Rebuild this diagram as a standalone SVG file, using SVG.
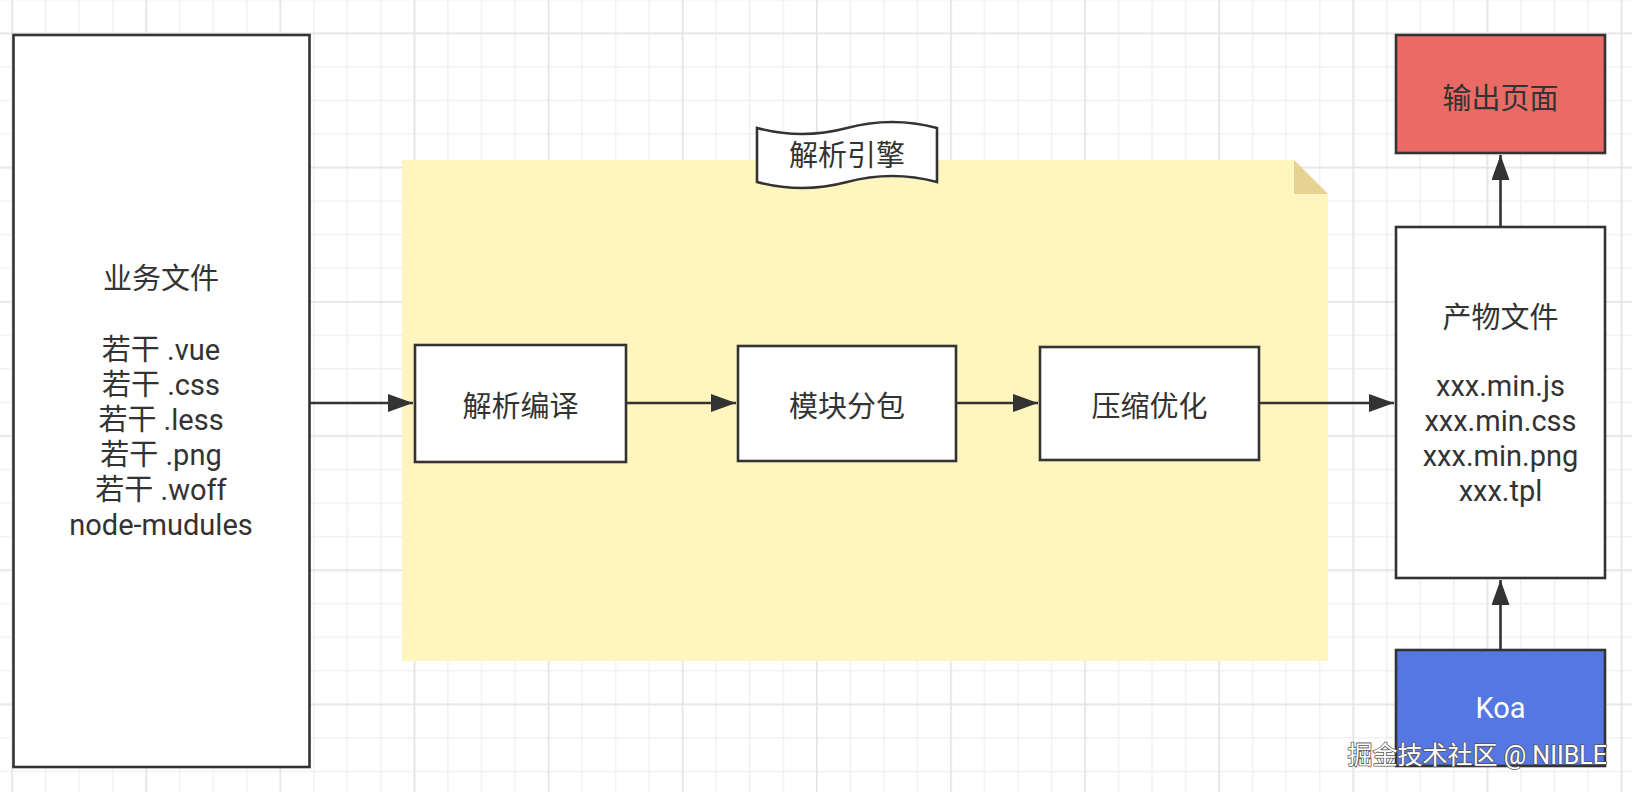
<svg xmlns="http://www.w3.org/2000/svg" width="1632" height="792" viewBox="0 0 1632 792">
<style>
.box{fill:#ffffff;stroke:#333333;stroke-width:2.6}
.lbl{font-family:Roboto,"Noto Sans CJK SC",sans-serif;font-size:29px;fill:#333333;text-anchor:middle}
.edge{fill:none;stroke:#333333;stroke-width:2.6}
</style>
<defs>
<pattern id="gMinor" patternUnits="userSpaceOnUse" x="11.3" y="32.6" width="33.53" height="33.55">
<rect x="0" y="0" width="1.4" height="33.55" fill="#f0f0f0"/>
<rect x="0" y="0" width="33.53" height="1.4" fill="#f0f0f0"/>
</pattern>
<pattern id="gMajor" patternUnits="userSpaceOnUse" x="11.3" y="32.6" width="134.12" height="134.2">
<rect x="0" y="0" width="1.5" height="134.2" fill="#e4e4e4"/>
<rect x="0" y="0" width="134.12" height="1.5" fill="#e4e4e4"/>
</pattern>
<marker id="arr" markerUnits="userSpaceOnUse" markerWidth="26" markerHeight="20" refX="25" refY="9" orient="auto">
<path d="M0,0 L25,9 L0,18 Z" fill="#333333"/>
</marker>
</defs>
<rect x="0" y="0" width="1632" height="792" fill="#ffffff"/>
<rect x="0" y="0" width="1632" height="792" fill="url(#gMinor)"/>
<rect x="0" y="0" width="1632" height="792" fill="url(#gMajor)"/>

<g id="note-engine">
<path d="M402,160 L1294,160 L1328,194 L1328,661 L402,661 Z" fill="#fff6bf"/>
<path d="M1294,160 L1294,194 L1328,194 Z" fill="#e6d394"/>
</g>

<g id="tape-engine">
<path d="M757,128 Q802,140 847,128 Q892,116 937,128 L937,182 Q892,170 847,182 Q802,194 757,182 Z" fill="#ffffff" stroke="#333333" stroke-width="2.6"/>
<text class="lbl" x="847" y="166">解析引擎</text>
</g>

<g id="source-files">
<rect class="box" x="13.5" y="35" width="296" height="732"/>
<text class="lbl" x="161" y="289">业务文件</text>
<text class="lbl" x="161" y="360">若干 .vue</text>
<text class="lbl" x="161" y="395">若干 .css</text>
<text class="lbl" x="161" y="430">若干 .less</text>
<text class="lbl" x="161" y="465">若干 .png</text>
<text class="lbl" x="161" y="500">若干 .woff</text>
<text class="lbl" x="161" y="535">node-mudules</text>
</g>

<g id="parse-compile">
<rect class="box" x="415" y="345" width="211" height="117"/>
<text class="lbl" x="520.5" y="417">解析编译</text>
</g>

<g id="module-split">
<rect class="box" x="738" y="346" width="218" height="115"/>
<text class="lbl" x="847" y="417">模块分包</text>
</g>

<g id="compress-optimize">
<rect class="box" x="1040" y="347" width="219" height="113"/>
<text class="lbl" x="1149.5" y="417">压缩优化</text>
</g>

<g id="output-files">
<rect class="box" x="1396" y="227" width="209" height="351"/>
<text class="lbl" x="1500.5" y="328">产物文件</text>
<text class="lbl" x="1500.5" y="396">xxx.min.js</text>
<text class="lbl" x="1500.5" y="431">xxx.min.css</text>
<text class="lbl" x="1500.5" y="466">xxx.min.png</text>
<text class="lbl" x="1500.5" y="501">xxx.tpl</text>
</g>

<g id="output-page">
<rect class="box" x="1396" y="35" width="209" height="118" style="fill:#ea6b66"/>
<text class="lbl" x="1500.5" y="109">输出页面</text>
</g>

<g id="koa">
<rect class="box" x="1396" y="650" width="209" height="116" style="fill:#5577e3"/>
<text class="lbl" x="1500.5" y="718" style="fill:#ffffff">Koa</text>
</g>

<g id="connectors">
<path class="edge" d="M310,403 L413,403" marker-end="url(#arr)"/>
<path class="edge" d="M627,403 L736,403" marker-end="url(#arr)"/>
<path class="edge" d="M957,403 L1038,403" marker-end="url(#arr)"/>
<path class="edge" d="M1260,403 L1394,403" marker-end="url(#arr)"/>
<path class="edge" d="M1500.5,226 L1500.5,155" marker-end="url(#arr)"/>
<path class="edge" d="M1500.5,649 L1500.5,580" marker-end="url(#arr)"/>
</g>

<text x="1607" y="764" text-anchor="end" font-family="Roboto, Noto Sans CJK SC, sans-serif" font-size="25" fill="#ffffff" stroke="#555555" stroke-width="1.6" paint-order="stroke" stroke-linejoin="round">掘金技术社区 @ NIIBLE</text>
</svg>
